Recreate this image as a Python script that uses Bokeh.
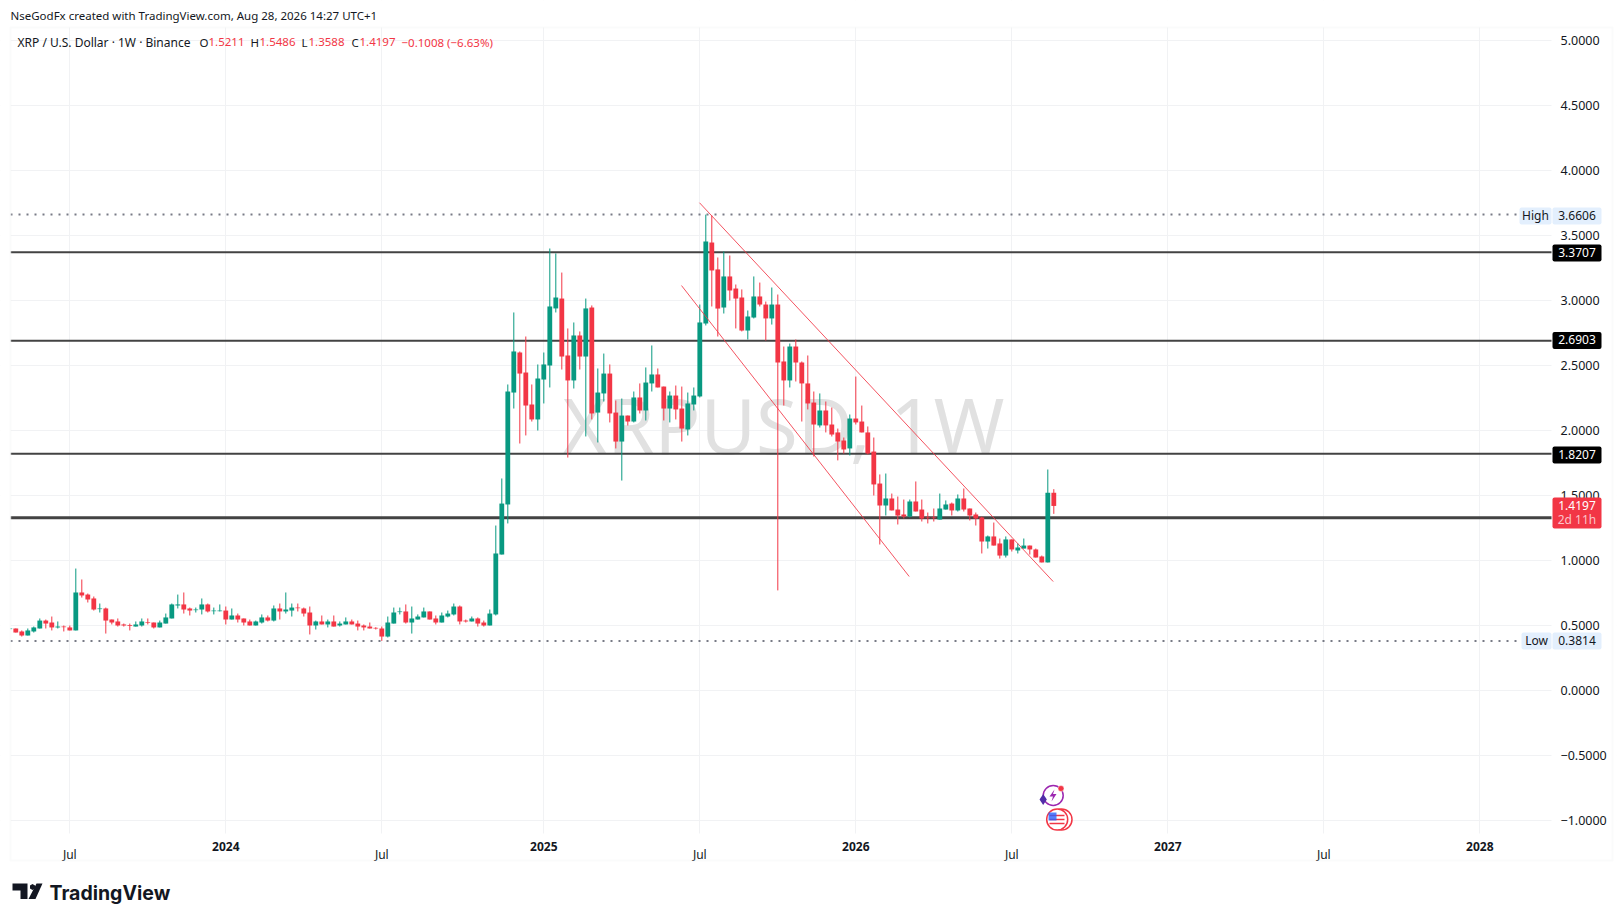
from bokeh.plotting import figure
from bokeh.embed import file_html
from bokeh.resources import INLINE
from bokeh.models import Label, BoxAnnotation, PolyAnnotation, FixedTicker

first_week = -10
opens = [.472,.477,.454,.423,.454,.477,.538,.523,.485,.492,.485,.462,.754,.738,.708,.626,.631,.546,.531,.508,.503,.492,.500,.526,.523,.485,.515,.554,.654,.662,.631,.618,.623,.662,.610,.610,.615,.546,.577,.554,.531,.500,.523,.562,.538,.631,.608,.615,.638,.631,.600,.500,.531,.508,.531,.500,.508,.531,.515,.500,.492,.482,.477,.415,.515,.603,.608,.523,.546,.562,.608,.554,.523,.569,.585,.646,.538,.531,.554,.523,.500,.585,1.046,1.431,
 2.292,2.600,2.446,2.200,2.085,2.392,2.500,2.939,3.015,2.577,2.385,2.731,2.569,2.946,2.138,2.285,2.438,2.138,1.915,2.115,2.069,2.254,2.154,2.362,2.431,2.338,2.169,2.269,2.169,2.008,2.200,2.262,
 2.823,3.446,3.239,2.946,3.185,3.092,3.023,2.769,2.869,3.031,2.969,2.862,2.969,2.531,2.385,2.646,2.523,2.362,2.215,2.039,2.154,2.046,1.985,1.923,1.862,2.092,2.069,1.985,
 1.838,1.592,1.423,1.477,1.392,1.354,1.338,1.454,1.392,1.331,1.331,1.315,1.392,1.438,1.385,1.477,1.400,1.354,1.331,1.146,1.185,1.131,1.038,1.162,1.077,1.092,1.115,1.085,1.031,.985,1.5211]
highs = [.477,.477,.462,.477,.492,.554,.546,.569,.531,.500,.500,.938,.854,.746,.723,.669,.638,.546,.554,.515,.515,.531,.554,.554,.523,.538,.592,.669,.738,.754,.638,.638,.708,.669,.638,.662,.646,.631,.592,.554,.546,.538,.585,.577,.654,.669,.754,.669,.669,.638,.646,.538,.577,.546,.577,.531,.562,.546,.538,.508,.523,.487,.492,.569,.638,.638,.662,.646,.585,.638,.608,.577,.600,.615,.669,.654,.546,.569,.562,.538,.623,1.269,1.631,2.354,
 2.908,2.608,2.723,2.354,2.508,2.600,3.400,3.362,3.215,2.785,2.831,2.762,3.015,2.962,2.477,2.592,2.508,2.231,2.246,2.115,2.300,2.362,2.485,2.654,2.477,2.338,2.300,2.346,2.338,2.292,2.331,2.969,
 3.6606,3.654,3.331,3.377,3.346,3.123,3.085,2.923,3.185,3.138,2.992,3.100,3.046,2.646,2.669,2.700,2.531,2.577,2.300,2.285,2.223,2.177,2.015,1.946,2.123,2.415,2.192,2.031,
 1.946,1.662,1.669,1.515,1.492,1.469,1.469,1.608,1.469,1.369,1.400,1.515,1.462,1.446,1.508,1.554,1.400,1.369,1.338,1.192,1.292,1.169,1.185,1.162,1.131,1.169,1.115,1.092,1.038,1.700,1.5486]
lows = [.472,.446,.415,.423,.446,.477,.477,.462,.477,.454,.462,.462,.715,.677,.615,.600,.438,.508,.492,.492,.462,.492,.492,.508,.477,.485,.515,.554,.631,.592,.577,.600,.585,.600,.585,.608,.508,.546,.523,.500,.500,.500,.515,.531,.531,.546,.592,.569,.608,.569,.431,.469,.508,.485,.492,.492,.508,.508,.462,.462,.477,.469,.3814,.408,.515,.585,.515,.438,.546,.562,.546,.508,.523,.562,.577,.508,.523,.531,.492,.492,.500,.577,1.046,1.285,
 2.169,1.900,1.962,2.069,2.000,2.208,2.331,2.908,2.469,1.792,2.323,2.469,1.954,2.085,1.908,2.223,2.062,1.862,1.615,2.038,2.062,2.131,2.077,2.300,2.331,2.077,2.062,2.085,1.915,1.962,2.154,2.254,
 2.808,2.954,2.723,2.900,3.000,2.785,2.762,2.700,2.862,2.954,2.692,2.815,.77,2.192,2.331,2.377,2.069,2.162,1.80,2.023,1.985,1.954,1.77,1.823,1.808,2.046,1.985,1.815,
 1.500,1.123,1.346,1.385,1.277,1.323,1.331,1.377,1.300,1.285,1.300,1.315,1.392,1.346,1.377,1.377,1.308,1.269,1.054,1.092,1.115,1.015,1.023,1.069,1.054,1.092,1.046,1.023,.985,.985,1.3588]
closes = [.477,.446,.423,.462,.485,.538,.515,.485,.492,.487,.462,.754,.731,.700,.623,.631,.538,.523,.500,.500,.497,.508,.531,.521,.485,.523,.562,.662,.662,.623,.615,.623,.662,.608,.615,.615,.546,.577,.546,.523,.500,.531,.562,.538,.631,.608,.623,.638,.633,.592,.500,.531,.508,.531,.492,.515,.531,.508,.492,.485,.477,.477,.415,.523,.600,.608,.523,.554,.569,.608,.546,.523,.577,.592,.646,.531,.531,.554,.515,.500,.592,1.054,1.438,2.300,
 2.608,2.438,2.192,2.085,2.400,2.508,2.954,3.023,2.569,2.385,2.731,2.569,2.939,2.131,2.292,2.438,2.131,1.915,2.115,2.069,2.254,2.154,2.369,2.431,2.331,2.169,2.269,2.162,2.015,2.208,2.269,2.831,
 3.454,3.231,2.938,3.185,3.077,3.015,2.769,2.877,3.031,2.969,2.862,2.969,2.523,2.385,2.646,2.523,2.362,2.208,2.046,2.154,2.039,1.969,1.915,1.854,2.092,2.062,1.985,1.823,
 1.585,1.423,1.477,1.385,1.346,1.338,1.454,1.377,1.323,1.326,1.326,1.400,1.431,1.385,1.477,1.392,1.346,1.323,1.146,1.185,1.115,1.038,1.162,1.085,1.100,1.115,1.085,1.023,.985,1.5211,1.4197]

level_values = [3.3707, 2.6903, 1.8207]
level_labels = ["3.3707", "2.6903", "1.8207"]
support_level = 1.328
high_value, low_value = 3.6606, 0.3814
last_value = 1.4197
upper_channel_x, upper_channel_y = [104.95, 163.9], [3.752, 0.838]
lower_channel_x, lower_channel_y = [101.95, 139.9], [3.115, 0.877]
y_ticks = [-1, -.5, 0, .5, 1, 1.5, 2, 2.5, 3, 3.5, 4, 4.5, 5]
month_ticks = [0, 52, 105, 157, 209]
year_ticks = [26, 79, 131, 183, 235]
year_labels = ["2024", "2025", "2026", "2027", "2028"]

RED, TEAL = "#f23645", "#089981"
INK = "#131722"
FONT = "Noto Sans"

LEFT, RIGHT, TOP, BOTTOM = 10, 1551, 27, 833   # price pane, in page pixels
W, H = 1620, 915
FR, FB = W - 4, H - 4                          # plot frame covers the page


def kx(px):
    return (px - 69.3) / 6


def vy(py):
    return 1 + (560 - py) / 130


p = figure(width=W, height=H, output_backend="svg", toolbar_location=None,
           x_range=(kx(0), kx(FR)), y_range=(vy(FB), vy(0)), y_axis_location="right",
           min_border_left=0, min_border_right=W - FR, min_border_top=0, min_border_bottom=H - FB)
p.outline_line_color = None
p.background_fill_color = "white"
p.border_fill_color = "white"

ya, xa = p.yaxis[0], p.xaxis[0]
ya.ticker = FixedTicker(ticks=y_ticks)
ya.major_label_overrides = {t: (f"{t:.4f}" if t >= 0 else "\u2212" + f"{-t:.4f}") for t in y_ticks}
xa.ticker = FixedTicker(ticks=month_ticks + year_ticks)
xa.major_label_overrides = {**{t: "Jul" for t in month_ticks}, **{t: " " for t in year_ticks}}
for a in (ya, xa):
    a.axis_line_color = None
    a.major_tick_line_color = None
    a.minor_tick_line_color = None
    a.major_label_text_font = FONT
    a.major_label_text_color = INK
ya.major_label_text_font_size = "12.5px"
xa.major_label_text_font_size = "12px"
ya.major_label_standoff = 1554 - FR
xa.major_label_standoff = 839 - FB
for g in (p.xgrid[0], p.ygrid[0]):
    g.grid_line_color = "#f1f2f4"
    g.grid_line_width = 1


def text(s, x, y, size=12, color=INK, align="left", style="normal", font=FONT, level="overlay"):
    p.add_layout(Label(x=x, y=y, x_units="canvas", y_units="canvas", text=s,
                       text_font=font, text_font_size=f"{size}px", text_color=color,
                       text_align=align, text_baseline="middle", text_font_style=style, level=level))


def box(l, r, t, b, fill, radius=2, line=None, lw=1, level="overlay"):
    p.add_layout(BoxAnnotation(left=l, right=r, top=t, bottom=b,
                               left_units="canvas", right_units="canvas", top_units="canvas", bottom_units="canvas",
                               fill_color=fill or "white", fill_alpha=1 if fill else 0, line_color=line, line_width=lw,
                               border_radius=radius, level=level, editable=False))


# watermark behind the candles
text("XRPUSD, 1W", 783, 424, size=76, color="#e1e1e1", align="center", level="underlay")

# mask the grid outside the price pane
for l, r, t, b in [(0, LEFT, 0, H), (RIGHT, W, 0, H), (0, W, 0, TOP), (0, W, BOTTOM, H)]:
    box(l, r, t, b, "white", radius=0, level="glyph")

# horizontal levels
pane_x = [kx(LEFT), kx(RIGHT)]
n_lv = len(level_values)
p.segment([pane_x[0]] * n_lv, level_values, [pane_x[1]] * n_lv, level_values, line_color="#434343", line_width=2, level="annotation")
p.segment([pane_x[0]], [support_level], [pane_x[1]], [support_level], line_color="#434343", line_width=3, level="annotation")
p.segment([pane_x[0]] * 2, [high_value, low_value], [pane_x[1]] * 2, [high_value, low_value],
          line_color="#787b86", line_width=2, line_dash="2 6", level="annotation")

# candles
weeks = [first_week + i for i in range(len(closes))]
colors = [TEAL if c >= o else RED for o, c in zip(opens, closes)]
p.segment(weeks, lows, weeks, highs, line_color=colors, line_width=1, level="annotation")
p.vbar(x=weeks, width=0.8, bottom=[min(o, c) for o, c in zip(opens, closes)],
       top=[max(o, c) for o, c in zip(opens, closes)], fill_color=colors, line_color=None, level="annotation")

# channel
p.line(upper_channel_x, upper_channel_y, line_color=RED, line_width=1, line_alpha=0.85, level="annotation")
p.line(lower_channel_x, lower_channel_y, line_color=RED, line_width=1, line_alpha=0.85, level="annotation")

# outer frame
box(0, LEFT, TOP, BOTTOM, "white", radius=0)
box(10, 1612, 27, 860, None, radius=0, line="#f0f1f3", lw=2)

# price tags
box(1519, 1551, 207, 224, "#e3effd")
box(1552, 1601, 207, 224, "#e3effd")
text("High", 1535, 214.5, align="center")
text("3.6606", 1576.5, 214.5, align="center")
ys = [252.5, 340, 454.5]
for lab, yy in zip(level_labels, ys):
    box(1552, 1601, yy - 8.5, yy + 8.5, "#000000")
    text(lab, 1576.5, yy - 1, color="white", align="center")
box(1552, 1601, 497, 528, RED)
text("1.4197", 1576.5, 504.5, color="white", align="center")
text("2d 11h", 1576.5, 518.5, color="#fbc4ca", align="center")
box(1521, 1551, 632, 649, "#e3effd")
box(1552, 1601, 632, 649, "#e3effd")
text("Low", 1536, 639.5, align="center")
text("0.3814", 1576.5, 639.5, align="center")

# header and legend
text("NseGodFx created with TradingView.com, Aug 28, 2026 14:27 UTC+1", 10, 15, size=11.5)
text("XRP / U.S. Dollar \u00b7 1W \u00b7 Binance", 17, 41.5)
for s, x, c in [("O", 199, INK), ("1.5211", 208, RED), ("H", 250, INK), ("1.5486", 259, RED),
                ("L", 301, INK), ("1.3588", 308, RED), ("C", 351, INK), ("1.4197", 359, RED),
                ("\u22120.1008 (\u22126.63%)", 401, RED)]:
    text(s, x, 41.5, color=c, size=11.5)

# year labels on the time axis
for t, s in zip(year_ticks, year_labels):
    text(s, 69.3 + 6 * t, 846, align="center", style="bold")

# TradingView logo
for xs, ys_ in [([12, 27, 27, 20, 20, 12], [883, 883, 898.5, 898.5, 890, 890]),
                ([36, 42, 35, 28], [883, 883, 898.5, 898.5]),
                ([29.5, 32, 34.5, 34.5, 32, 29.5], [885, 883.5, 885, 888, 889.5, 888])]:
    p.add_layout(PolyAnnotation(xs=xs, ys=ys_, xs_units="canvas", ys_units="canvas",
                                fill_color="#131722", fill_alpha=1, line_color=None, level="overlay", editable=False))
text("TradingView", 49, 892, size=19.5, color="#131722", style="bold", font="Inter")

# event icons
p.scatter([kx(1052.7)], [vy(795)], size=20, marker="circle", fill_color="white", line_color="#9c27b0", line_width=1.5, level="annotation")
p.patch([kx(a) for a in (1054, 1049, 1052.5, 1051, 1056, 1052.5)], [vy(b) for b in (789, 796, 796, 801, 793.5, 793.5)],
        fill_color="#9c27b0", line_color=None, level="annotation")
p.scatter([kx(1060.5)], [vy(788)], size=6, marker="circle", fill_color=RED, line_color="white", line_width=0.5, level="annotation")
p.scatter([kx(1042.7)], [vy(799)], size=11, marker="diamond", fill_color="#512da8", line_color=None, level="annotation")
for cx in (1061, 1056.7):
    p.scatter([kx(cx)], [vy(819)], size=21, marker="circle", fill_color="white", line_color=RED, line_width=1.5, level="annotation")
for yy in (815, 819, 823):
    p.segment([kx(1049)], [vy(yy)], [kx(1064)], [vy(yy)], line_color=RED, line_width=1.5, level="annotation")
p.quad(left=[kx(1048)], right=[kx(1056)], top=[vy(812)], bottom=[vy(820)], fill_color="#2962ff", line_color=None, fill_alpha=0.8, level="annotation")

open("out.html", "w").write(file_html(p, INLINE))
